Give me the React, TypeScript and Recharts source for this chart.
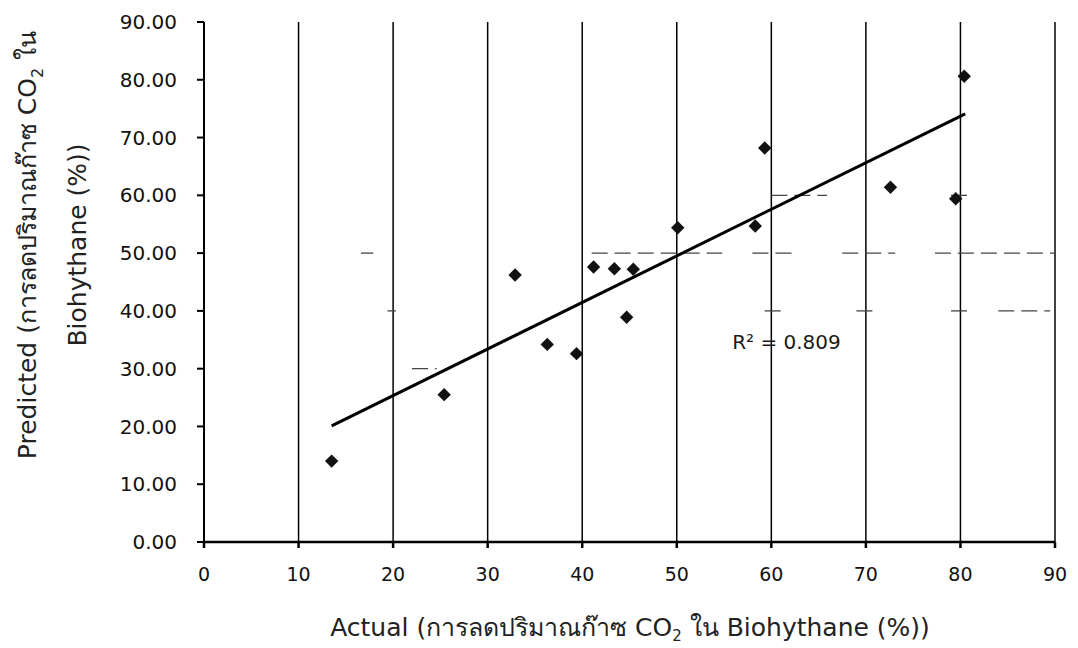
import React from 'react';
import { ScatterChart, Scatter, XAxis, YAxis, CartesianGrid, ReferenceLine, ReferenceDot } from 'recharts';

const actual = [13.5, 25.4, 32.9, 36.3, 39.4, 41.2, 43.4, 44.7, 45.4, 50.1, 58.3, 59.3, 72.6, 79.5, 80.4];
const predicted = [14.0, 25.5, 46.2, 34.2, 32.6, 47.6, 47.3, 38.9, 47.2, 54.4, 54.7, 68.2, 61.4, 59.4, 80.6];

// linear trend line end points
const trendX = [13.5, 80.5];
const trendY = [20.1, 74.1];
const r2Text = 'R² = 0.809';

const xTicks = [0, 10, 20, 30, 40, 50, 60, 70, 80, 90];
const yTicks = [0, 10, 20, 30, 40, 50, 60, 70, 80, 90];

// faint, broken horizontal gridline pieces left in the scan
const gridY = [50, 50, 50, 50, 50, 40, 40, 40, 40, 40, 60, 60, 30];
const gridFrom = [16.6, 41.0, 58.0, 67.5, 77.3, 19.4, 59.3, 69.0, 79.0, 84.0, 60.0, 79.0, 22.0];
const gridTo = [17.9, 54.8, 62.7, 73.1, 90.0, 20.3, 61.3, 71.2, 81.0, 89.5, 65.9, 81.0, 24.6];

const points = actual.map((x, i) => ({ x, y: predicted[i] }));
const font = "'DejaVu Sans', 'Noto Sans', sans-serif";

const Diamond = (props: any) => {
  const { cx, cy } = props;
  const r = 6.7;
  return <path d={`M${cx},${cy - r}L${cx + r},${cy}L${cx},${cy + r}L${cx - r},${cy}Z`} fill="#111" />;
};

export default function App() {
  return (
    <div style={{ position: 'relative', width: 1070, height: 640, background: '#fff' }}>
      <ScatterChart width={1070} height={640} margin={{ top: 14, right: 23, left: 0, bottom: 0 }}>
        <CartesianGrid horizontal={false} stroke="#000" strokeWidth={1.5} />
        <XAxis
          type="number"
          dataKey="x"
          domain={[0, 90]}
          ticks={xTicks}
          height={106}
          stroke="#000"
          strokeWidth={2.5}
          tickSize={6}
          tickMargin={20}
          tick={{ fontSize: 19, fill: '#111', fontFamily: font }}
        />
        <YAxis
          type="number"
          dataKey="y"
          domain={[0, 90]}
          ticks={yTicks}
          width={196}
          stroke="#000"
          strokeWidth={2}
          tickSize={7}
          tickMargin={20}
          tickFormatter={(v: number) => v.toFixed(2)}
          tick={{ fontSize: 20, fill: '#111', fontFamily: font }}
        />
        {gridY.map((y, i) => (
          <ReferenceLine
            key={i}
            segment={[{ x: gridFrom[i], y }, { x: gridTo[i], y }]}
            stroke="#444"
            strokeWidth={1.3}
            strokeDasharray="16 7"
          />
        ))}
        <ReferenceLine
          segment={[{ x: trendX[0], y: trendY[0] }, { x: trendX[1], y: trendY[1] }]}
          stroke="#000"
          strokeWidth={3}
        />
        <Scatter data={points} shape={<Diamond />} isAnimationActive={false} />
        <ReferenceDot
          x={61.6}
          y={34.6}
          r={0}
          label={{ value: r2Text, position: 'center', fontSize: 20, fill: '#1a1a1a', fontFamily: font }}
        />
      </ScatterChart>
      <svg width={1070} height={640} style={{ position: 'absolute', left: 0, top: 0, pointerEvents: 'none' }}>
        <g fontFamily={font} fontSize={25} fill="#222">
          <text transform="translate(28,237) rotate(-90)" textAnchor="middle">
            Predicted (การลดปริมาณก๊าซ CO<tspan dy={7} fontSize={16}>2</tspan><tspan dy={-7}> ใน</tspan>
          </text>
          <text transform="translate(78,237) rotate(-90)" textAnchor="middle">
            Biohythane (%))
          </text>
          <text x={622} y={628} textAnchor="middle">
            Actual (การลดปริมาณก๊าซ CO<tspan dy={5} fontSize={15}>2</tspan><tspan dy={-5}> ใน Biohythane (%))</tspan>
          </text>
        </g>
      </svg>
    </div>
  );
}
